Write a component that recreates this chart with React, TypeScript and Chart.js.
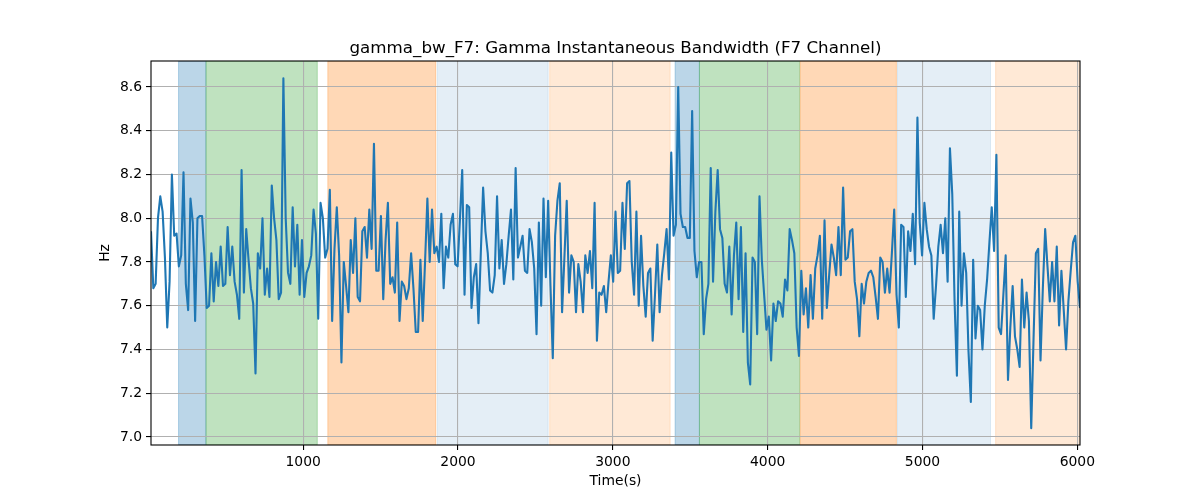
import React, { useEffect, useRef } from 'react'
import Chart from 'chart.js/auto'

const TITLE = 'gamma_bw_F7: Gamma Instantaneous Bandwidth (F7 Channel)'
const X_LABEL = 'Time(s)'
const Y_LABEL = 'Hz'

// sampling of the series (seconds)
const startTime = 17
const sampleStep = 15

// gamma bandwidth in Hz left to right
const gammaBw = [
    7.94, 7.68, 7.7, 8.0, 8.1, 8.03, 7.82, 7.5, 7.71, 8.2, 7.92, 7.93, 7.78, 7.83, 8.21, 7.7, 7.58, 8.09, 7.98, 7.53,
    8.0, 8.01, 8.01, 7.83, 7.59, 7.6, 7.84, 7.62, 7.8, 7.69, 7.87, 7.69, 7.7, 7.96, 7.74, 7.87, 7.71, 7.65, 7.54, 8.22,
    7.66, 7.95, 7.81, 7.68, 7.61, 7.29, 7.84, 7.77, 8.0, 7.65, 7.77, 7.64,
    8.15, 8.0, 7.9, 7.63, 7.66, 8.64, 8.0, 7.75, 7.7, 8.05, 7.78, 7.97, 7.65, 7.9, 7.64, 7.75, 7.78, 7.83, 8.04, 7.93,
    7.54, 8.07, 8.0, 7.82, 7.86, 8.13, 7.53, 7.86, 8.05, 7.83, 7.34, 7.8, 7.69, 7.57, 7.9, 7.75, 8.0, 7.64, 7.62, 7.94,
    7.96, 7.82, 8.04, 7.86, 8.34, 7.76, 7.76, 8.01, 7.63, 7.9, 8.07,
    7.7, 7.73, 7.66, 7.98, 7.53, 7.71, 7.69, 7.63, 7.68, 7.84, 7.68, 7.48, 7.48, 7.81, 7.53, 7.8, 8.09, 7.8, 8.04, 7.84,
    7.87, 7.8, 8.02, 7.68, 7.87, 7.82, 7.97, 8.02, 7.79, 7.78, 7.99, 8.22, 7.65, 8.06, 8.05, 7.59, 7.73, 7.79, 7.52, 7.84,
    8.14, 7.94, 7.84, 7.67, 7.66, 7.74, 8.1, 7.77, 7.9, 7.7, 7.79, 7.92,
    8.04, 7.72, 8.23, 7.82, 7.87, 7.92, 7.76, 7.75, 7.95, 7.89, 7.77, 7.47, 7.98, 7.6, 8.09, 7.73, 8.08, 7.69, 7.36, 7.92,
    8.08, 8.16, 7.57, 7.82, 8.08, 7.66, 7.83, 7.8, 7.57, 7.79, 7.71, 7.57, 7.83, 7.75, 7.85, 7.68, 8.07, 7.44, 7.66, 7.65,
    7.69, 7.57, 7.71, 7.83, 7.71, 8.03, 7.75, 7.76, 8.07, 7.86, 8.16, 8.17,
    7.8, 7.65, 8.03, 7.6, 7.92, 7.69, 7.55, 7.75, 7.77, 7.44, 7.65, 7.88, 7.57, 7.74, 7.84, 7.95, 7.72, 8.3, 7.92, 7.97,
    8.6, 8.02, 7.96, 7.96, 7.91, 7.91, 8.49, 7.85, 7.73, 7.8, 7.8, 7.47, 7.63, 7.7, 8.23, 7.71, 8.03, 8.22, 7.95, 7.91,
    7.7, 7.66, 7.87, 7.56, 7.83, 7.98, 7.63, 7.96, 7.48, 7.84, 7.34, 7.24,
    7.82, 7.8, 7.47, 8.1, 7.81, 7.65, 7.49, 7.55, 7.35, 7.61, 7.53, 7.62, 7.61, 7.55, 7.72, 7.67, 7.95, 7.9, 7.84, 7.5,
    7.37, 7.76, 7.56, 7.68, 7.5, 7.74, 7.54, 7.77, 7.83, 7.92, 7.54, 7.99, 7.59, 7.74, 7.88, 7.82, 7.74, 7.96, 7.74, 8.14,
    7.81, 7.82, 7.94, 7.95, 7.71, 7.63, 7.46, 7.7, 7.61, 7.71, 7.75,
    7.76, 7.73, 7.64, 7.54, 7.82, 7.8, 7.66, 7.77, 7.66, 7.84, 8.04, 7.65, 7.5, 7.97, 7.96, 7.64, 7.94, 7.85, 8.02, 7.79,
    8.46, 7.98, 7.83, 8.07, 7.95, 7.87, 7.83, 7.54, 7.69, 7.87, 7.97, 7.84, 8.0, 7.71, 8.32, 8.11, 7.62, 7.28, 8.03, 7.6,
    7.84, 7.75, 7.39, 7.16, 7.81, 7.45, 7.6, 7.58, 7.4, 7.6, 7.72, 7.89,
    8.05, 7.85, 8.29, 7.5, 7.47, 7.65, 7.83, 7.26, 7.5, 7.69, 7.46, 7.4, 7.32, 7.72, 7.5, 7.66, 7.53, 7.04, 7.45, 7.84,
    7.86, 7.35, 7.68, 7.95, 7.78, 7.62, 7.8, 7.62, 7.87, 7.51, 7.76, 7.58, 7.4, 7.62, 7.76, 7.89, 7.92, 7.71, 7.59,
]

const xTicks = [1000, 2000, 3000, 4000, 5000, 6000]
const yTicks = [7.0, 7.2, 7.4, 7.6, 7.8, 8.0, 8.2, 8.4, 8.6]
const yMin = 6.963
const yMax = 8.719

// shaded phases behind the trace
const spanStarts = [195, 372, 1159, 1866, 2592, 3402, 3559, 4210, 4838, 5472]
const spanEnds = [372, 1091, 1856, 2582, 3370, 3559, 4206, 4831, 5439, 6100]
const spanColors = [
    'rgba(31,119,180,0.3)',
    'rgba(44,160,44,0.3)',
    'rgba(255,127,14,0.3)',
    'rgba(31,119,180,0.12)',
    'rgba(255,127,14,0.17)',
    'rgba(31,119,180,0.3)',
    'rgba(44,160,44,0.3)',
    'rgba(255,127,14,0.3)',
    'rgba(31,119,180,0.12)',
    'rgba(255,127,14,0.17)',
]

const FONT = '"DejaVu Sans", sans-serif'

const spansPlugin = {
    id: 'spans',
    beforeDraw(chart: any) {
        const { ctx, chartArea, scales } = chart
        ctx.save()
        ctx.beginPath()
        ctx.rect(chartArea.left, chartArea.top, chartArea.right - chartArea.left, chartArea.bottom - chartArea.top)
        ctx.clip()
        spanStarts.forEach((s, i) => {
            const x0 = scales.x.getPixelForValue(s)
            const x1 = scales.x.getPixelForValue(spanEnds[i])
            ctx.fillStyle = spanColors[i]
            ctx.fillRect(x0, chartArea.top, x1 - x0, chartArea.bottom - chartArea.top)
            ctx.strokeStyle = spanColors[i]
            ctx.lineWidth = 1
            ctx.strokeRect(x0, chartArea.top, x1 - x0, chartArea.bottom - chartArea.top)
        })
        ctx.restore()
    },
}

const frameAndTextPlugin = {
    id: 'frameAndText',
    afterDatasetsDraw(chart: any) {
        const { ctx, chartArea } = chart
        ctx.save()
        ctx.strokeStyle = '#000'
        ctx.lineWidth = 1.1
        ctx.strokeRect(chartArea.left, chartArea.top, chartArea.right - chartArea.left, chartArea.bottom - chartArea.top)
        ctx.fillStyle = '#000'
        const cx = (chartArea.left + chartArea.right) / 2
        ctx.textAlign = 'center'
        ctx.font = `16.7px ${FONT}`
        ctx.textBaseline = 'alphabetic'
        ctx.fillText(TITLE, cx, chartArea.top - 8.5)
        ctx.font = `13.9px ${FONT}`
        ctx.textBaseline = 'middle'
        ctx.fillText(X_LABEL, cx, 481)
        ctx.translate(105, (chartArea.top + chartArea.bottom) / 2)
        ctx.rotate(-Math.PI / 2)
        ctx.fillText(Y_LABEL, 0, 0)
        ctx.restore()
    },
}

const App = () => {
    const canvasRef = useRef<HTMLCanvasElement>(null)

    useEffect(() => {
        document.body.style.margin = '0'
        if (canvasRef.current == null) return
        const points = gammaBw.map((v, i) => ({ x: startTime + i * sampleStep, y: v }))
        const lastTime = startTime + (gammaBw.length - 1) * sampleStep

        const myChart = new Chart(canvasRef.current, {
            type: 'line',
            data: {
                datasets: [
                    {
                        data: points,
                        borderColor: '#1f77b4',
                        borderWidth: 2.1,
                        pointRadius: 0,
                        tension: 0,
                        borderJoinStyle: 'round',
                    },
                ],
            },
            options: {
                animation: false,
                responsive: false,
                layout: { padding: { top: 61, right: 120, bottom: 0, left: 0 } },
                plugins: {
                    legend: { display: false },
                    title: { display: false },
                    tooltip: { enabled: false },
                },
                scales: {
                    x: {
                        type: 'linear',
                        min: startTime,
                        max: lastTime,
                        afterFit: (scale: any) => { scale.height = 55 },
                        afterBuildTicks: (scale: any) => { scale.ticks = xTicks.map(v => ({ value: v })) },
                        grid: { color: '#b0b0b0', lineWidth: 1.1, tickColor: '#000', tickLength: 5 },
                        border: { display: false },
                        ticks: {
                            color: '#000',
                            padding: 4,
                            maxRotation: 0,
                            font: { family: FONT, size: 13.9 },
                            callback: (v: any) => String(v),
                        },
                    },
                    y: {
                        min: yMin,
                        max: yMax,
                        afterFit: (scale: any) => { scale.width = 151 },
                        afterBuildTicks: (scale: any) => { scale.ticks = yTicks.map(v => ({ value: v })) },
                        grid: { color: '#b0b0b0', lineWidth: 1.1, tickColor: '#000', tickLength: 5 },
                        border: { display: false },
                        ticks: {
                            color: '#000',
                            padding: 4,
                            font: { family: FONT, size: 13.9 },
                            callback: (v: any) => Number(v).toFixed(1),
                        },
                    },
                },
            },
            plugins: [spansPlugin, frameAndTextPlugin],
        } as any)

        return () => {
            myChart.destroy()
        }
    }, [])

    return (
        <div style={{ width: 1200, height: 500 }}>
            <canvas ref={canvasRef} width={1200} height={500}></canvas>
        </div>
    )
}

export default App
